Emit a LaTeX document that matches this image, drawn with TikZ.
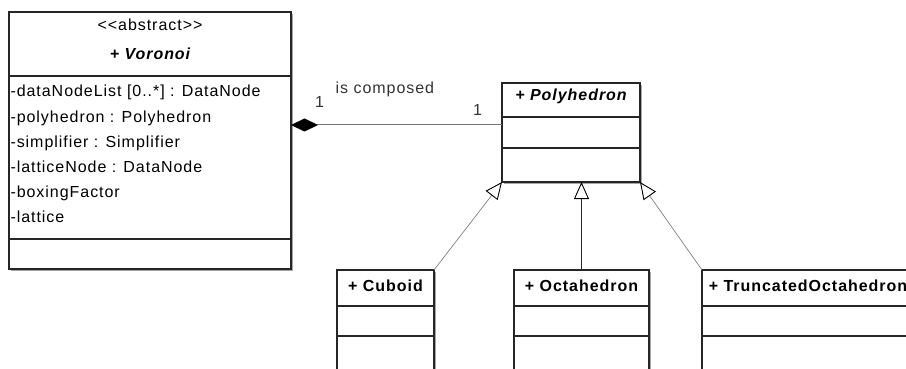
\documentclass[tikz,border=0pt]{standalone}
\usepackage{fontspec}
\setmainfont{Liberation Sans}[LetterSpace=6]
\usetikzlibrary{positioning,fit,backgrounds,shadows,arrows.meta}
\newcommand\umlsize{\fontsize{16}{25}\selectfont}

\begin{document}
\begin{tikzpicture}[
    x=1pt, y=-1pt,
    font=\umlsize,
    compartment/.style={rectangle, draw=black!85, fill=white, line width=1.2pt,
                        inner sep=0pt, outer sep=0pt, minimum width=#1},
    classframe/.style={rectangle, inner sep=0pt, outer sep=0pt, fill=white,
                       drop shadow={shadow xshift=1.6pt, shadow yshift=-1.6pt,
                                    fill=black!35, opacity=1}},
    abstractname/.style={anchor=base, inner sep=0pt, font=\umlsize\bfseries\itshape},
    classname/.style={anchor=base, inner sep=0pt, font=\umlsize\bfseries},
    member/.style={anchor=base west, inner sep=0pt},
    assoc/.style={anchor=base west, inner sep=0pt, text=black!80},
    composition/.style={draw=black!55, line width=1pt,
                        -{Diamond[length=27pt, width=13pt, color=black, fill=black]}},
    generalization/.style={draw=black!85, line width=1pt,
                           -{Triangle[open, length=17pt, width=15pt, fill=white,
                                      color=black, line width=0.9pt]}},
    slanted/.style={draw=black!50, line width=0.7pt}
]
\useasboundingbox (0,0) rectangle (906,369);
\clip (0,0) rectangle (906,369);

% Voronoi
\node[compartment=282pt, minimum height=64pt, anchor=north west] (vhead) at (9,12) {};
\node[compartment=282pt, minimum height=163pt, below=0pt of vhead] (vattr) {};
\node[compartment=282pt, minimum height=30pt, below=0pt of vattr] (vops) {};

\node[anchor=base, inner sep=0pt] (vstereo) at ([yshift=-19pt]vhead.north) {<{}<abstract>{}>};
\node[abstractname] (vname) at ([yshift=-48pt]vhead.north) {+ Voronoi};

\foreach \attr [count=\i] in {{-dataNodeList [0..*] : DataNode}, {-polyhedron : Polyhedron},
    {-simplifier : Simplifier}, {-latticeNode : DataNode}, {-boxingFactor}, {-lattice}}
  \node[member] (vm\i) at ([shift={(1.3pt,{-21pt-25pt*(\i-1)})}]vattr.north west) {\attr};

% Polyhedron
\node[compartment=138pt, minimum height=34pt, anchor=north west] (phead) at (502,83) {};
\node[compartment=138pt, minimum height=31pt, below=0pt of phead] (pattr) {};
\node[compartment=138pt, minimum height=34pt, below=0pt of pattr] (pops) {};
\node[abstractname] (pname) at ([yshift=-18pt]phead.north) {+ Polyhedron};

% Cuboid
\node[compartment=97pt, minimum height=36pt, anchor=north west] (chead) at (337,270) {};
\node[compartment=97pt, minimum height=30pt, below=0pt of chead] (cattr) {};
\node[compartment=97pt, minimum height=45pt, below=0pt of cattr] (cops) {};
\node[classname] (cname) at ([yshift=-21pt]chead.north) {+ Cuboid};

% Octahedron
\node[compartment=135pt, minimum height=36pt, anchor=north west] (ohead) at (514,270) {};
\node[compartment=135pt, minimum height=30pt, below=0pt of ohead] (oattr) {};
\node[compartment=135pt, minimum height=45pt, below=0pt of oattr] (oops) {};
\node[classname] (oname) at ([yshift=-21pt]ohead.north) {+ Octahedron};

% TruncatedOctahedron
\node[compartment=212pt, minimum height=36pt, anchor=north west] (thead) at (702,270) {};
\node[compartment=212pt, minimum height=30pt, below=0pt of thead] (tattr) {};
\node[compartment=212pt, minimum height=45pt, below=0pt of tattr] (tops) {};
\node[classname] (tname) at ([yshift=-21pt]thead.north) {+ TruncatedOctahedron};

% shadows
\begin{scope}[on background layer]
  \node[classframe, fit=(vhead)(vops)] (vframe) {};
  \node[classframe, fit=(phead)(pops)] (pframe) {};
  \node[classframe, fit=(chead)(cops)] (cframe) {};
  \node[classframe, fit=(ohead)(oops)] (oframe) {};
  \node[classframe, fit=(thead)(tops)] (tframe) {};
\end{scope}

% composition
\coordinate (cjoin) at ([yshift=-8pt]pattr.north west);
\draw[composition] (cjoin) -- (cjoin -| vattr.east);
\node[assoc] (role) at (335.5,94) {is composed};
\node[assoc] (mvor) at (315,108) {1};
\node[assoc] (mpoly) at (473,115) {1};

% generalizations
\draw[generalization, slanted] (chead.north east) -- (pops.south west);
\draw[generalization] (ohead.north) -- (ohead.north |- pops.south);
\draw[generalization, slanted] (thead.north west) -- (pops.south east);

\end{tikzpicture}
\end{document}
